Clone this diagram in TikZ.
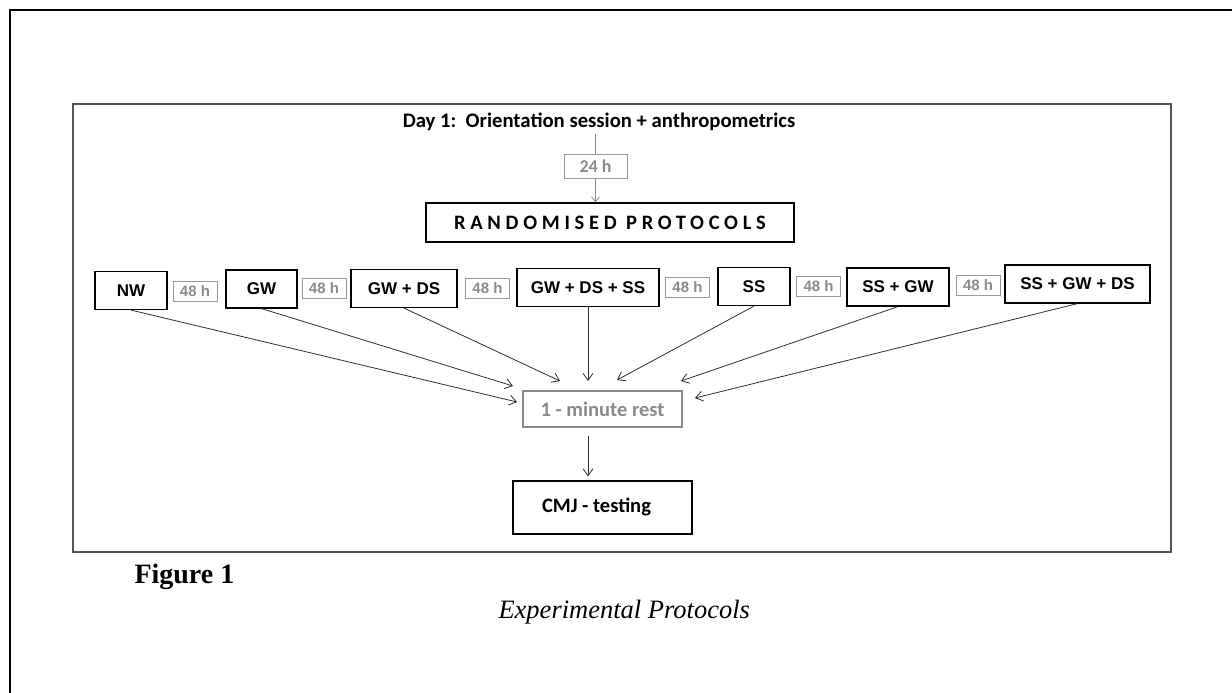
\documentclass[tikz,border=0pt]{standalone}
\usepackage{xcolor}
\usepackage{fontspec}
\usepackage{tikz}
\usetikzlibrary{arrows.meta}
\setmainfont{Liberation Serif}
\newfontfamily\calfont{Carlito}
\newfontfamily\arfont{Liberation Sans}
\definecolor{waitline}{rgb}{0.60,   0.60,   0.60}
\definecolor{waittext}{rgb}{0.54,   0.54,   0.54}
\definecolor{frameline}{rgb}{0.33,   0.33,   0.33}
\definecolor{linkline}{rgb}{0.18,   0.18,   0.18}

\begin{document}
\begin{tikzpicture}[x=1pt,y=-1pt]
\tikzset{prot/.style={draw=black, line width=1.2pt, minimum height=38pt, inner sep=0pt,
 font=\arfont\bfseries\fontsize{17pt}{17pt}\selectfont},
 wait/.style={draw=waitline, line width=1pt, minimum width=44pt, minimum height=20pt, inner sep=0pt,
 text=waittext, font=\arfont\bfseries\fontsize{15pt}{15pt}\selectfont},
 link/.style={draw=linkline, line width=0.8pt, -{Straight Barb[length=7pt,width=10pt]}}}
\useasboundingbox (0,0) rectangle (1232,693);
\draw[line width=2.5pt] (10,693) -- (10,10) -- (1232,10);
\draw[frameline, line width=1.5pt] (73,104) rectangle (1171,552);

\node (d1) at (599,122) [font=\calfont\bfseries\fontsize{20.7pt}{20.7pt}\selectfont] {Day 1:\ \ Orientation session + anthropometrics};
\node (h1) at (595.5,166) [wait, minimum width=63pt, minimum height=24pt, font=\calfont\bfseries\fontsize{18pt}{18pt}\selectfont] {24 h};
\node (r1) at (610,222.5) [draw=black, line width=1.2pt, minimum width=368pt, minimum height=39pt, inner sep=0pt,
 font=\calfont\bfseries\fontsize{20.5pt}{20.5pt}\selectfont\addfontfeature{LetterSpace=23}] {RANDOMISED PROTOCOLS};

% protocols and rest days
\node (p1) at (131,290.5) [prot, minimum width=72pt] {NW};
\node (h2) at (195,291) [wait] {48 h};
\node (p2) at (261.5,289) [prot, minimum width=71pt] {GW};
\node (h3) at (324,288.5) [wait] {48 h};
\node (p3) at (404,288.5) [prot, minimum width=106pt] {GW + DS};
\node (h4) at (487.5,288) [wait] {48 h};
\node (p4) at (588,287.5) [prot, minimum width=142pt] {GW + DS + SS};
\node (h5) at (687.5,287) [wait] {48 h};
\node (p5) at (754,286.5) [prot, minimum width=72pt] {SS};
\node (h6) at (818.5,286.5) [wait] {48 h};
\node (p6) at (898,287) [prot, minimum width=102pt] {SS + GW};
\node (h7) at (978,285.5) [wait] {48 h};
\node (p7) at (1077.5,284) [prot, minimum width=145pt] {SS + GW + DS};

\node (m1) at (602.5,409) [draw=waittext, line width=2pt, minimum width=159pt, minimum height=36pt, inner sep=0pt,
 text=waittext, font=\calfont\bfseries\fontsize{20.5pt}{20.5pt}\selectfont] {1 - minute rest};
\node (c1) at (602.5,507.5) [draw=black, line width=1.2pt, minimum width=179pt, minimum height=53pt, inner sep=0pt,
 font=\calfont\bfseries\fontsize{20.5pt}{20.5pt}\selectfont] {CMJ - testing\kern12pt};

\node (f1) at (131,583) [anchor=base west, font=\bfseries\fontsize{28pt}{28pt}\selectfont] {Figure 1};
\node (f2) at (495,618) [anchor=base west, font=\itshape\fontsize{26.5pt}{26.5pt}\selectfont] {Experimental Protocols};

% arrow ends round the rest box
\coordinate (e1) at (517,402);
\coordinate (e2) at (513,386);
\coordinate (e3) at (560,381);
\coordinate (e4) at (588,381);
\coordinate (e5) at (617,380);
\coordinate (e6) at (681,381);
\coordinate (e7) at (695,398);

\draw[waittext, line width=0.8pt] (h1.north) -- (h1.north |- d1.south);
\draw[link, draw=waittext, -{Straight Barb[length=5pt,width=8pt]}] (h1.south) -- (h1.south |- r1.north);
\foreach \i in {1,...,7}
 \draw[link] (p\i.south) -- (e\i);
\draw[link] ([xshift=-14.5pt,yshift=-8pt]m1.south) -- ([xshift=-14.5pt,yshift=4pt]c1.north);

\end{tikzpicture}
\end{document}
